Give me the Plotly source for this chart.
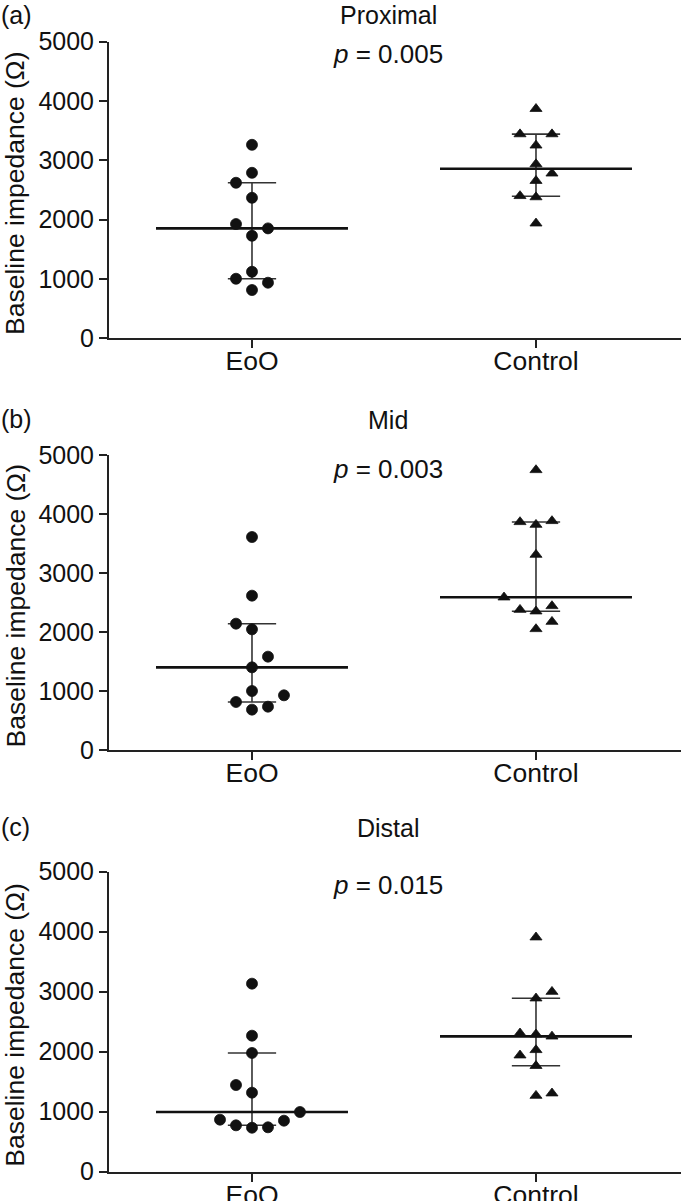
import numpy as np
import plotly.graph_objects as go

W, H = 681, 1201

# ---------------- data ----------------
categories = ["EoO", "Control"]
panel_titles = ["Proximal", "Mid", "Distal"]
panel_letters = ["(a)", "(b)", "(c)"]
p_values = ["0.005", "0.003", "0.015"]
y_ticks = [0, 1000, 2000, 3000, 4000, 5000]

proximal_eoo = [3262, 2790, 2622, 2369, 1926, 1853, 1729, 1122, 1004, 937, 814]
proximal_control = [3869, 3442, 3442, 3252, 2937, 2780, 2656, 2400, 2380, 1938]
mid_eoo = [3610, 2616, 2141, 2045, 1582, 1401, 1000, 927, 814, 734, 684]
mid_control = [4746, 3865, 3819, 3882, 3311, 2588, 2378, 2351, 2441, 2175, 2051]
distal_eoo = [3134, 2267, 1979, 1445, 1317, 995, 867, 850, 773, 733, 740]
distal_control = [3907, 3000, 2890, 2307, 2290, 2255, 2029, 1940, 1765, 1267, 1307]

# horizontal scatter slots (dot-plot spreading, in units of one marker step)
proximal_eoo_slot = [0, 0, -1, 0, -1, 1, 0, 0, -1, 1, 0]
proximal_control_slot = [0, -1, 1, 0, 0, 1, 0, -1, 0, 0]
mid_eoo_slot = [0, 0, -1, 0, 1, 0, 0, 2, -1, 1, 0]
mid_control_slot = [0, -1, 0, 1, 0, -2, -1, 0, 1, 1, 0]
distal_eoo_slot = [0, 0, 0, -1, 0, 3, -2, 2, -1, 0, 1]
distal_control_slot = [0, 1, 0, -1, 0, 1, 0, -1, 0, 0, 1]

panels = [
    (proximal_eoo, proximal_eoo_slot, proximal_control, proximal_control_slot),
    (mid_eoo, mid_eoo_slot, mid_control, mid_control_slot),
    (distal_eoo, distal_eoo_slot, distal_control, distal_control_slot),
]

# ---------------- layout geometry (pixels) ----------------
AX_LEFT = 109
Y_DOMAINS_PX = [(41.7, 338.3), (455.0, 750.0), (871.7, 1171.7)]
TITLE_Y = [15, 420, 828]
LETTER_Y = [15, 419, 827]
P_Y = [54, 469, 885]
TEXT_X = 388
X_RANGE = [0.4965, 2.5106]
STEP = 0.0563          # horizontal spacing between spread dots
MED_HALF = 0.338       # half width of median line
CAP_HALF = 0.085       # half width of quartile caps

FONT = "Liberation Sans, Arial, Helvetica, sans-serif"
INK = "#111111"
LINE = "#222222"


def px_x(px):
    return px / W


def px_y(py):
    return 1 - py / H


fig = go.Figure()
annotations = []
layout = dict(
    width=W, height=H, autosize=False,
    margin=dict(l=0, r=0, t=0, b=0, pad=0, autoexpand=False),
    paper_bgcolor="white", plot_bgcolor="white",
    showlegend=False,
    font=dict(family=FONT, color=INK),
)

for i, (eoo, eoo_slot, ctl, ctl_slot) in enumerate(panels):
    k = "" if i == 0 else str(i + 1)
    xa, ya = "x" + k, "y" + k
    top, bot = Y_DOMAINS_PX[i]

    layout["xaxis" + k] = dict(
        domain=[px_x(AX_LEFT), 1.0], range=X_RANGE, anchor=ya,
        tickvals=[1, 2], ticktext=categories,
        showline=True, linewidth=2, linecolor=LINE,
        ticks="outside", ticklen=8, tickwidth=2, tickcolor=LINE,
        ticklabelstandoff=-10, automargin=False,
        showgrid=False, zeroline=False, fixedrange=True,
        tickfont=dict(family=FONT, size=26.5, color=INK),
    )
    layout["yaxis" + k] = dict(
        domain=[px_y(bot), px_y(top)], range=[0, 5000], anchor=xa,
        tickvals=y_ticks, ticktext=[str(t) for t in y_ticks],
        showline=True, linewidth=2, linecolor=LINE,
        ticks="outside", ticklen=8, tickwidth=2, tickcolor=LINE,
        automargin=False,
        showgrid=False, zeroline=False, fixedrange=True,
        tickfont=dict(family=FONT, size=25, color=INK),
    )

    for xc, vals, slots, sym, size in [
        (1, eoo, eoo_slot, "circle", 11),
        (2, ctl, ctl_slot, "triangle-up", 10.5),
    ]:
        v = np.asarray(vals, dtype=float)
        q1, med, q3 = np.percentile(v, [25, 50, 75], method="weibull")
        # interquartile range (vertical bar + caps)
        fig.add_trace(go.Scatter(
            x=[xc, xc, None, xc - CAP_HALF, xc + CAP_HALF, None, xc - CAP_HALF, xc + CAP_HALF],
            y=[q1, q3, None, q1, q1, None, q3, q3],
            mode="lines", line=dict(color="#333333", width=1.6),
            xaxis=xa, yaxis=ya, hoverinfo="skip",
        ))
        # median line
        fig.add_trace(go.Scatter(
            x=[xc - MED_HALF, xc + MED_HALF], y=[med, med],
            mode="lines", line=dict(color=INK, width=2.6),
            xaxis=xa, yaxis=ya, hoverinfo="skip",
        ))
        # individual points
        fig.add_trace(go.Scatter(
            x=[xc + s * STEP for s in slots], y=vals,
            mode="markers",
            marker=dict(symbol=sym, size=size, color=INK,
                        line=dict(color=INK, width=0.8)),
            xaxis=xa, yaxis=ya,
        ))

    # panel letter, title, p value, y-axis title
    annotations.append(dict(
        x=0, y=px_y(LETTER_Y[i]), xref="paper", yref="paper",
        text=panel_letters[i], showarrow=False, xanchor="left", yanchor="middle",
        borderpad=0, font=dict(family=FONT, size=25, color=INK),
    ))
    annotations.append(dict(
        x=px_x(TEXT_X), y=px_y(TITLE_Y[i]), xref="paper", yref="paper",
        text=panel_titles[i], showarrow=False, xanchor="center", yanchor="middle",
        borderpad=0, font=dict(family=FONT, size=25, color=INK),
    ))
    annotations.append(dict(
        x=px_x(TEXT_X), y=px_y(P_Y[i]), xref="paper", yref="paper",
        text="<i>p</i> = " + p_values[i], showarrow=False, xanchor="center", yanchor="middle",
        font=dict(family=FONT, size=26, color=INK),
    ))
    annotations.append(dict(
        x=px_x(15), y=px_y((top + bot) / 2 + 4), xref="paper", yref="paper",
        text="Baseline impedance (Ω)", textangle=-90, showarrow=False,
        xanchor="center", yanchor="middle",
        font=dict(family=FONT, size=26.5, color=INK),
    ))

layout["annotations"] = annotations
fig.update_layout(**layout)
fig.write_html(
    "out.html",
    config={"displayModeBar": False},
    post_script="document.body.style.margin='0';document.body.style.overflow='hidden';",
)
